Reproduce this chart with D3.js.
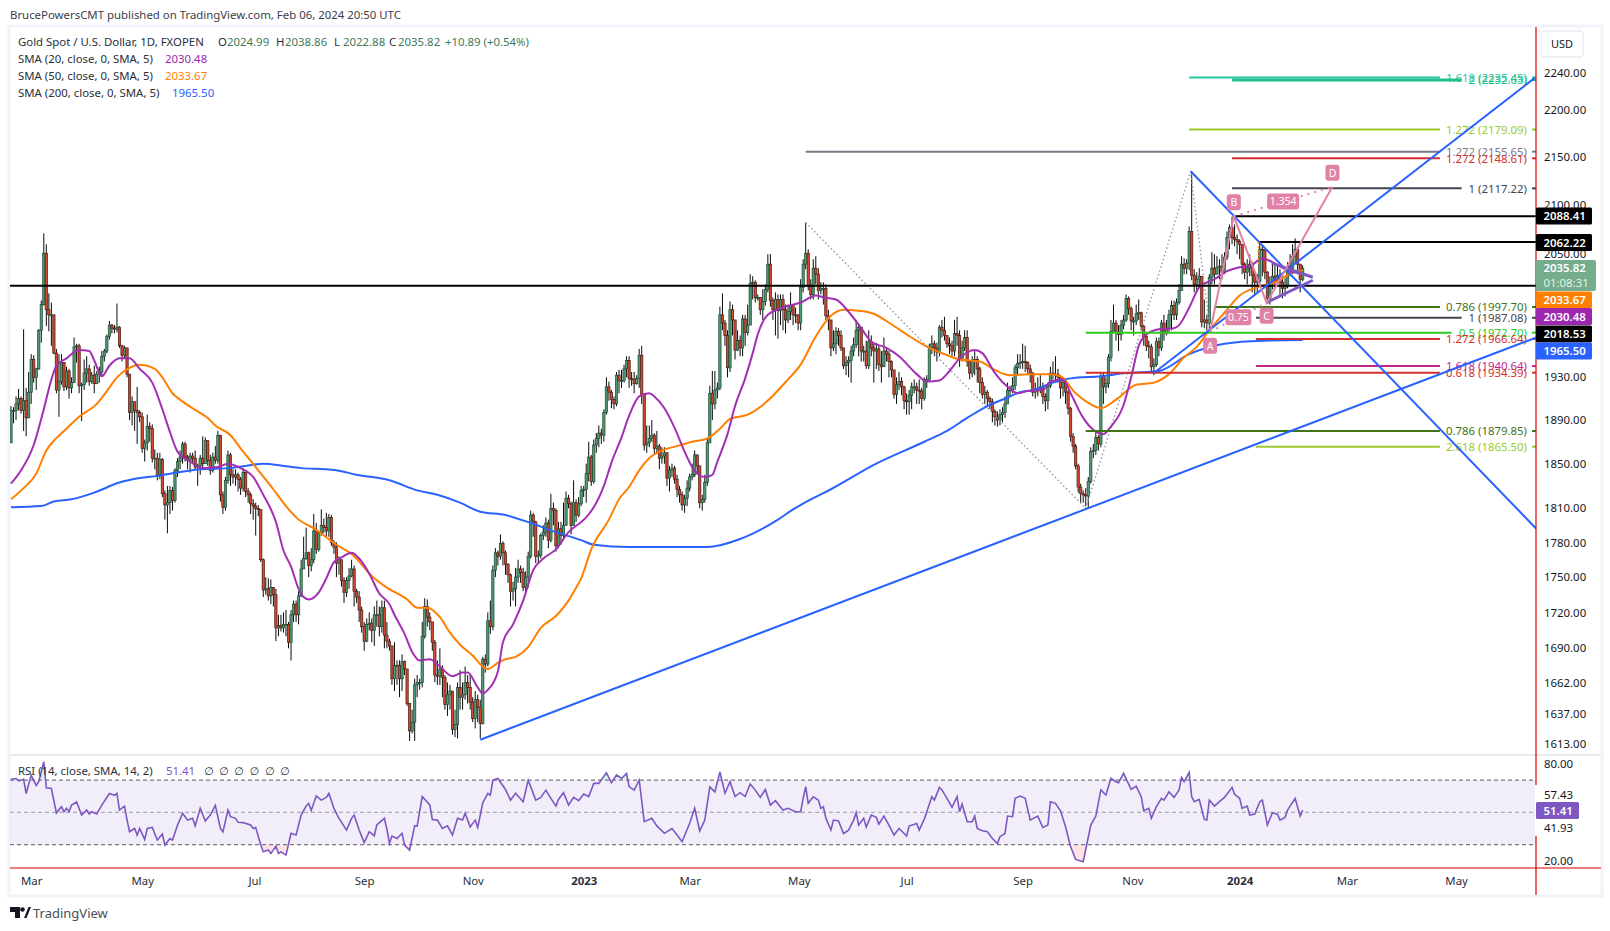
<!DOCTYPE html>
<html>
<head>
<meta charset="utf-8">
<script src="https://cdn.jsdelivr.net/npm/d3@7/dist/d3.min.js"></script>
<style>
html, body { margin: 0; padding: 0; background: #fff; }
text { font-family: "Noto Sans", "DejaVu Sans", sans-serif; }
.tick text { font-family: "Noto Sans", sans-serif; }
</style>
</head>
<body>
<div id="canvas"></div>
<script>
// candles, one row per 10 daily bars, open is the previous close
const closes = [
1899,1899,1905,1910,1899,1908,1892,1916,1947,1930,
1938,1975,2000,2051,1995,1990,1990,1953,1918,1926,
1944,1921,1936,1920,1925,1959,1960,1922,1923,1934,
1938,1926,1932,1924,1933,1935,1950,1955,1969,1980,
1977,1976,1978,1960,1951,1958,1933,1897,1907,1899,
1897,1893,1864,1869,1884,1882,1855,1855,1839,1854,
1823,1813,1815,1826,1817,1844,1852,1856,1868,1856,
1853,1857,1855,1847,1848,1855,1850,1871,1853,1844,
1856,1853,1876,1822,1811,1835,1858,1840,1838,1840,
1836,1828,1842,1825,1822,1814,1812,1810,1809,1765,
1739,1740,1734,1741,1735,1707,1709,1707,1710,1710,
1695,1718,1727,1718,1734,1757,1766,1771,1760,1765,
1790,1774,1788,1795,1793,1790,1802,1780,1776,1762,
1765,1747,1737,1747,1751,1757,1738,1733,1722,1708,
1696,1710,1711,1705,1718,1718,1708,1724,1701,1696,
1692,1665,1676,1676,1665,1679,1673,1645,1623,1630,
1660,1662,1662,1700,1725,1716,1712,1695,1668,1667,
1673,1666,1644,1652,1655,1624,1628,1658,1650,1652,
1662,1658,1646,1633,1648,1642,1629,1681,1677,1713,
1708,1756,1771,1768,1779,1771,1761,1752,1738,1740,
1750,1757,1754,1741,1750,1768,1804,1798,1768,1769,
1786,1789,1797,1782,1810,1808,1777,1792,1786,1795,
1819,1814,1795,1815,1804,1814,1826,1827,1841,1856,
1834,1867,1873,1878,1876,1897,1921,1916,1909,1905,
1932,1927,1927,1938,1946,1929,1928,1924,1929,1951,
1914,1867,1869,1873,1876,1864,1866,1855,1857,1860,
1837,1844,1846,1836,1827,1822,1813,1819,1828,1838,
1840,1858,1848,1815,1818,1833,1869,1915,1905,1918,
1920,1990,1982,1970,1939,1995,1985,1956,1965,1958,
1986,1973,1980,2021,2022,2007,2007,1995,2003,2015,
2040,2004,1995,2005,1994,2005,1995,1985,1993,1999,
1990,1990,1982,2017,2040,2051,2018,2010,2036,2030,
2014,2016,2016,1989,1985,1958,1962,1974,1970,1958,
1941,1944,1946,1955,1961,1975,1978,1955,1955,1941,
1964,1958,1955,1957,1942,1940,1955,1952,1945,1937,
1914,1923,1926,1921,1908,1907,1913,1921,1921,1918,
1917,1910,1926,1928,1958,1962,1958,1954,1978,1975,
1970,1962,1960,1955,1972,1970,1947,1958,1968,1945,
1934,1945,1947,1938,1925,1914,1916,1910,1907,1898,
1893,1890,1895,1897,1905,1918,1918,1922,1939,1943,
1944,1945,1944,1938,1934,1916,1918,1919,1921,1912,
1908,1922,1934,1933,1933,1930,1920,1925,1916,1901,
1875,1866,1848,1829,1823,1822,1821,1834,1861,1862,
1874,1868,1931,1921,1924,1949,1974,1982,1973,1971,
1980,1985,2006,1996,1984,1984,1991,1992,1979,1969,
1960,1959,1940,1942,1964,1958,1982,1972,1977,1990,
1999,1990,2002,2014,2040,2036,2041,2073,2029,2020,
2025,2028,1983,1985,1982,2027,2036,2030,2037,2038,
2032,2047,2067,2077,2067,2065,2063,2060,2040,2032,
2036,2040,2029,2022,2023,2055,2054,2032,2006,2021,
2028,2022,2029,2022,2016,2018,2038,2036,2048,2055,
2040,2024.99,2035.82
];
const highs = [
1903,1902,1912,1919,1912,1976,1920,1935,1952,1951,
1939,1976,2004,2071,2060,2011,2002,1986,1957,1952,
1952,1944,1940,1938,1930,1968,1962,1962,1925,1947,
1950,1942,1935,1941,1936,1940,1955,1957,1971,1984,
1981,1980,2001,1979,1961,1960,1958,1933,1912,1902,
1921,1899,1897,1872,1895,1888,1886,1863,1860,1860,
1855,1826,1830,1830,1829,1846,1855,1862,1870,1870,
1858,1860,1860,1862,1850,1858,1875,1874,1871,1858,
1860,1866,1880,1876,1825,1838,1862,1860,1845,1845,
1842,1838,1846,1843,1828,1824,1818,1815,1813,1809,
1766,1750,1749,1748,1740,1740,1718,1718,1720,1722,
1712,1722,1730,1730,1738,1765,1785,1793,1772,1775,
1805,1797,1790,1809,1801,1806,1805,1804,1782,1780,
1768,1765,1750,1750,1758,1765,1760,1740,1738,1725,
1712,1715,1720,1715,1725,1730,1725,1730,1730,1712,
1698,1692,1695,1680,1680,1685,1680,1672,1645,1640,
1665,1668,1665,1712,1732,1731,1720,1712,1697,1680,
1690,1676,1668,1662,1660,1655,1640,1662,1672,1662,
1675,1668,1668,1650,1655,1652,1648,1683,1685,1720,
1730,1760,1775,1773,1787,1781,1773,1762,1753,1746,
1758,1765,1760,1758,1755,1772,1808,1806,1799,1773,
1788,1795,1802,1800,1823,1815,1810,1798,1798,1815,
1825,1822,1816,1835,1818,1820,1830,1830,1850,1870,
1858,1872,1878,1885,1882,1900,1930,1926,1918,1912,
1935,1937,1937,1942,1950,1950,1935,1935,1932,1957,
1960,1914,1885,1885,1890,1878,1880,1868,1865,1865,
1860,1848,1850,1848,1840,1830,1825,1822,1835,1841,
1850,1862,1858,1848,1822,1840,1873,1922,1936,1936,
1925,1998,2011,1985,1975,2003,2000,1985,1975,1970,
1990,1990,2000,2030,2028,2024,2010,2007,2015,2020,
2050,2050,2007,2012,2010,2010,2010,2000,2000,2012,
2000,1997,1990,2025,2045,2082,2055,2025,2045,2048,
2036,2022,2022,2020,1995,1985,1975,1978,1977,1975,
1958,1950,1950,1960,1968,1985,1982,1978,1960,1965,
1975,1970,1962,1963,1960,1955,1968,1958,1955,1946,
1937,1930,1935,1930,1922,1915,1918,1925,1928,1925,
1928,1920,1930,1932,1962,1970,1965,1963,1980,1985,
1988,1970,1968,1965,1985,1988,1975,1965,1975,1975,
1946,1950,1955,1950,1940,1930,1922,1918,1912,1910,
1900,1898,1900,1902,1912,1925,1922,1930,1942,1952,
1952,1962,1960,1945,1942,1935,1925,1930,1932,1925,
1915,1925,1940,1945,1950,1938,1932,1930,1928,1918,
1902,1878,1868,1850,1832,1826,1828,1838,1865,1868,
1880,1876,1935,1935,1930,1952,1985,2000,1985,1980,
1985,1990,2010,2008,1998,1988,2000,2005,1993,1980,
1972,1965,1962,1948,1968,1968,1985,1990,1985,1995,
2004,2004,2006,2020,2048,2046,2045,2078,2135,2035,
2032,2036,2028,2005,1990,2030,2052,2050,2048,2045,
2050,2052,2073,2080,2088,2080,2070,2065,2060,2042,
2045,2050,2042,2032,2030,2062,2060,2055,2033,2028,
2040,2040,2040,2035,2030,2026,2042,2050,2060,2066,
2056,2040,2038.86
];
const lows = [
1869,1887,1890,1899,1896,1880,1875,1893,1905,1925,
1918,1937,1963,1999,1979,1974,1960,1952,1915,1893,
1923,1917,1918,1910,1915,1940,1944,1915,1889,1918,
1925,1922,1924,1915,1925,1925,1931,1945,1953,1966,
1972,1972,1973,1958,1945,1948,1930,1890,1885,1880,
1868,1888,1860,1852,1862,1870,1851,1845,1835,1836,
1820,1800,1788,1805,1808,1815,1838,1845,1850,1852,
1845,1842,1850,1845,1830,1840,1845,1850,1848,1840,
1842,1850,1850,1816,1805,1808,1832,1830,1832,1830,
1825,1822,1825,1820,1815,1805,1800,1786,1803,1763,
1733,1735,1730,1727,1725,1696,1700,1704,1703,1700,
1690,1680,1712,1712,1710,1733,1757,1765,1750,1755,
1762,1770,1772,1786,1788,1785,1785,1777,1770,1750,
1752,1742,1728,1733,1740,1750,1725,1728,1712,1703,
1688,1695,1705,1695,1692,1708,1700,1703,1690,1690,
1688,1660,1655,1660,1650,1655,1668,1643,1615,1621,
1615,1650,1656,1658,1698,1708,1705,1688,1662,1660,
1660,1650,1640,1635,1640,1620,1618,1617,1640,1640,
1648,1645,1640,1630,1625,1630,1617,1628,1670,1675,
1702,1705,1750,1760,1765,1760,1752,1745,1725,1730,
1725,1745,1745,1738,1735,1741,1766,1785,1762,1762,
1766,1782,1785,1775,1780,1795,1772,1775,1778,1783,
1795,1810,1787,1800,1798,1802,1812,1820,1815,1834,
1830,1832,1860,1865,1868,1870,1895,1908,1901,1900,
1903,1915,1920,1925,1930,1920,1922,1915,1923,1920,
1905,1862,1860,1865,1870,1858,1860,1845,1850,1850,
1830,1825,1838,1832,1820,1815,1808,1806,1812,1825,
1835,1838,1840,1810,1808,1815,1830,1872,1890,1900,
1910,1918,1975,1960,1930,1935,1970,1947,1955,1950,
1950,1960,1970,1985,2005,2002,2004,1990,1985,1999,
2012,1998,1985,1970,1967,1980,1975,1972,1982,1985,
1980,1982,1975,1975,2012,2035,2014,2005,2005,2020,
2005,2010,2000,1985,1975,1950,1955,1952,1960,1955,
1938,1932,1930,1925,1950,1958,1950,1945,1945,1938,
1938,1950,1925,1938,1936,1925,1940,1945,1930,1930,
1910,1905,1918,1913,1900,1895,1895,1900,1915,1905,
1905,1900,1908,1920,1926,1952,1950,1945,1950,1968,
1965,1958,1952,1950,1950,1960,1940,1945,1955,1940,
1928,1930,1932,1925,1915,1910,1905,1902,1900,1888,
1885,1884,1885,1888,1892,1905,1912,1915,1918,1932,
1938,1938,1935,1932,1925,1912,1910,1912,1915,1905,
1898,1900,1920,1928,1925,1925,1910,1912,1905,1895,
1870,1860,1845,1824,1815,1815,1812,1810,1832,1855,
1858,1862,1865,1905,1915,1920,1945,1975,1965,1955,
1965,1976,1983,1990,1975,1970,1980,1985,1975,1960,
1955,1948,1935,1932,1940,1950,1955,1965,1970,1972,
1975,1985,1985,2000,2014,2030,2030,2034,2024,2012,
2012,2018,1978,1977,1975,1976,2020,2020,2030,2025,
2025,2030,2044,2055,2060,2058,2050,2045,2030,2025,
2020,2028,2012,2010,2012,2020,2028,2025,2002,2000,
2015,2015,2020,2008,2006,2008,2016,2028,2030,2040,
2030,2012,2022.88
];
const openFirst = 1869;

const sma20Bars = [0,4,9,13,16,18,22,27,31,33,36,39,43,47,51,56,60,63,66,71,76,82,86,91,96,100,105,108,111,114,116,118,122,125,128,131,135,138,142,146,150,152,156,159,162,166,170,175,179,181,185,187,189,193,195,199,203,207,211,216,221,226,228,235,238,242,245,249,253,255,259,263,267,270,275,278,280,284,287,291,294,296,300,307,313,319,322,327,332,337,341,347,352,359,363,368,372,376,382,385,390,395,399,403,409,412,417,420,425,429,433,436,441,444,447,450,455,461,463,467,471,477,482,487,491,496,500,506,512];
const sma20Values = [1832,1844,1867,1900,1928,1941,1948,1956,1955,1946,1931,1941,1948,1948,1938,1925,1900,1879,1861,1852,1846,1847,1850,1846,1838,1822,1798,1773,1759,1740,1733,1731,1737,1749,1763,1767,1771,1766,1753,1736,1727,1718,1702,1687,1680,1681,1675,1667,1670,1670,1658,1653,1656,1671,1695,1710,1730,1756,1766,1774,1789,1798,1802,1830,1851,1874,1894,1912,1915,1912,1901,1883,1861,1847,1838,1840,1852,1877,1903,1929,1953,1971,1990,1998,2002,2009,2007,2005,1993,1977,1964,1958,1950,1933,1926,1927,1936,1948,1956,1953,1934,1921,1915,1917,1918,1926,1928,1915,1892,1881,1877,1884,1904,1930,1960,1971,1976,1977,1980,1997,2017,2025,2033,2037,2038,2046,2042,2034,2030.48];
const sma50Bars = [0,5,10,14,17,22,27,34,38,42,47,51,57,60,64,67,74,78,81,87,91,97,104,109,113,121,129,135,144,149,157,161,165,170,174,178,183,187,189,193,196,200,205,210,216,220,224,226,230,237,241,245,249,253,258,264,270,276,281,285,292,299,308,313,319,325,330,336,342,347,355,364,370,376,384,390,396,403,412,416,422,427,432,438,446,453,459,465,470,475,482,487,494,502,508,512];
const sma50Values = [1818,1828,1841,1862,1871,1882,1893,1905,1917,1930,1939,1942,1938,1930,1915,1909,1898,1892,1885,1876,1864,1847,1827,1812,1802,1791,1778,1770,1749,1741,1731,1724,1724,1716,1703,1693,1684,1675,1673,1678,1681,1683,1691,1707,1717,1727,1741,1749,1774,1800,1818,1829,1844,1855,1862,1866,1870,1873,1882,1891,1895,1906,1928,1942,1969,1989,1995,1994,1991,1984,1971,1958,1952,1947,1945,1937,1932,1933,1933,1931,1915,1906,1901,1909,1923,1925,1933,1949,1959,1975,1995,2009,2017,2023,2032,2033.67];
const sma200Bars = [0,12,17,24,33,43,51,58,66,75,86,93,100,108,115,125,129,137,150,161,169,178,186,196,206,216,226,231,245,260,276,289,304,310,317,325,342,362,371,379,387,395,400,405,413,420,432,442,455,467,481,496,512];
const sma200Values = [1811,1812,1816,1818,1824,1833,1837,1839,1842,1845,1846,1848,1850,1848,1846,1845,1844,1840,1835,1826,1822,1815,1807,1804,1797,1789,1782,1778,1776,1776,1776,1783,1800,1809,1818,1827,1849,1870,1880,1892,1903,1911,1916,1918,1925,1929,1931,1934,1936,1952,1962,1965,1965.5];

// rsi
const rsiBars = [0,2,3,5,6,8,10,11,13,14,16,18,20,21,22,23,24,26,28,30,31,32,34,36,39,41,42,43,45,46,47,49,50,51,53,54,56,58,60,61,63,64,66,68,70,72,73,75,77,79,81,83,84,86,87,89,90,92,95,96,97,99,100,102,103,105,106,107,109,111,113,115,117,118,119,121,123,125,126,128,130,133,135,136,138,140,142,144,145,148,149,150,151,153,155,156,158,160,161,163,166,167,169,171,173,175,177,179,180,182,184,185,187,189,190,191,193,196,198,200,203,205,208,210,212,214,216,217,219,221,223,225,227,229,231,233,236,238,240,242,244,245,247,249,251,254,256,259,262,264,266,269,271,273,275,277,279,281,283,285,287,289,291,293,295,297,299,301,303,306,308,311,313,314,315,316,318,320,321,322,323,325,326,328,330,332,334,335,336,338,339,341,343,344,346,348,350,352,355,356,359,360,362,363,365,366,368,369,371,373,375,376,377,379,381,382,383,385,387,389,391,392,394,395,397,398,400,402,404,406,407,409,411,412,414,416,418,420,422,425,428,430,432,434,436,438,439,441,444,446,448,449,451,452,454,456,457,459,461,463,464,465,467,468,469,471,473,474,475,477,479,481,484,485,487,488,490,491,493,495,496,498,500,502,503,505,506,509,511,512];
const rsiValues = [70.5,71,69.5,70.5,61.7,73,66.7,69,81.4,65.2,64.8,49.7,53.5,50.4,52.5,50.4,54.5,56.4,48.3,51.4,49,50.4,49,54.5,61.7,60.6,61.7,51.4,53.8,45.2,38,40,35.9,40,33.2,40,40.6,32.8,36.5,29.7,33.8,32.8,42,49.4,45.2,46.3,41.6,52.5,44.7,48.3,54.3,40,37.9,51.4,47.3,46.3,43.8,43.6,42.2,40,40.6,29.7,25.5,26.6,24.5,29,24.5,25.5,23.5,37,36,48.3,53.9,55.5,51.2,60.2,57.6,59.3,61.8,52.5,46.3,39,46.3,48.3,39,31.2,38,35.5,42.2,46.3,39.5,30.8,35.3,33.8,37,29.7,26.6,41.6,41.6,59.8,54.6,45.6,45.2,40,41.6,36,46.3,45.2,49.4,41,45.2,40.6,55.9,61.8,60.7,70,71,64.2,57.6,61.8,56.6,70,57.6,59.3,63.8,58.7,53.9,58,62.2,54.5,59.3,57.2,61.4,59.8,68,68,74.6,68.4,73.2,71,74.2,66,63.8,70,44.2,46.3,41.6,37,40,36,31.8,43.2,52.5,38.4,45.2,65.8,62.7,75,61.8,69,59.8,62.2,59.8,67.6,63.8,59.3,64.2,54.5,57.2,51.4,52.5,50.4,50.4,58.7,65.9,55.6,59.7,57.6,52.5,53.5,46.3,39,45.2,44.6,36.9,39,45.2,49.8,42.1,46.3,40.8,48.3,46.9,42.7,47.7,42.1,35.9,40,35.3,41.5,43.1,39,45.8,50.4,59.7,57.6,65.5,63.9,58.7,53.1,59.7,50.4,55.2,44.2,44.2,47.7,40,38.6,38,33.8,30.7,34.9,36.9,47.7,47.3,58.7,60.1,58.7,45.2,46.9,47.7,40.6,42.1,56.6,55.6,51,41.1,28.7,20.8,19.4,42.1,47.7,63.9,60.8,71.1,69,68.4,74.2,64.3,66.3,59.7,51,52.5,46.3,53.5,58.7,57.6,62.8,59.3,63.9,71.7,69,74.8,59.7,56.6,58,45.6,45.2,57.6,53.9,56.6,59.3,65.5,61.2,58.7,52.5,53.9,48.3,48.9,56.6,57.6,42.1,49.8,48.9,45.2,46.9,51.4,58.7,47.7,51.41];

// axis labels
const priceTicks = [2240,2200,2150,2100,2050,1930,1890,1850,1810,1780,1750,1720,1690,1662,1637,1613];
const monthBars = [8,52,96.5,140,183,227,269,312.3,355,401,444.5,487,529.5,572.8];
const monthLabels = ["Mar","May","Jul","Sep","Nov","2023","Mar","May","Jul","Sep","Nov","2024","Mar","May"];
const rsiTicks = [80,57.43,41.93,20];

// fibonacci levels
const fibLabels = ["1.618 (2235.45)","2 (2232.63)","1.272 (2179.09)","1.272 (2155.65)","1.272 (2148.61)","1 (2117.22)","0.786 (1997.70)","1 (1987.08)","0.5 (1972.70)","1.272 (1966.64)","1.618 (1940.64)","0.618 (1934.39)","0.786 (1879.85)","2.618 (1865.50)"];
const fibPrices = [2235.45,2232.63,2179.09,2155.65,2148.61,2117.22,1997.70,1987.08,1972.70,1966.64,1940.64,1934.39,1879.85,1865.50];
const fibStartBars = [467,484,467,315,484,484,477,493.5,426,493.5,493.5,426,426,493.5];
const fibEndBars = [566.4,575,566.4,566.4,566.4,575,566.4,575,571,566.4,566.4,566.4,566.4,566.4];
const fibColours = ["#26c6a0","#1fbf8f","#9bc92b","#787b86","#d32f2f","#434651","#3f7416","#434651","#2ecc1f","#d32f2f","#c2258e","#d32f2f","#3f7416","#9bc92b"];

// black horizontal rays
const rayPrices = [2088.41,2062.22,2018.53];
const rayStartBars = [484.3,494.4,-0.5];

// drawn trendlines, pairs of bar and price
const trendLines = [
    [[186,1616],[604.6,1968]],
    [[467.6,2135],[604.6,1792]],
    [[453,1934],[604,2235]]
];
const wedgeLines = [
    [[497.7,2002],[516,2024]],
    [[499.7,2041],[516,2027]]
];
const greyPath = [[315,2082],[426,1810],[467.6,2135],[475.3,1973.6]];
const orangeDash = [[494.4,2062],[494.4,2038]];

// harmonic pattern points
const abcdNames = ["A","B","C","D"];
const abcdBars = [475.3,484.7,497.7,523.8];
const abcdPrices = [1973.6,2088.4,2001.7,2118.9];
const ratioLabels = ["0.75","1.354"];

// legend text
const headerText = "BrucePowersCMT published on TradingView.com, Feb 06, 2024 20:50 UTC";
const ohlcLabels = ["O","H","L","C"];
const ohlcValues = ["2024.99","2038.86","2022.88","2035.82"];

// right hand price tags, centres are where the chart pushed them to
const tagTexts = ["2088.41","2062.22","2033.67","2030.48","2018.53","1965.50"];
const tagCentres = [216,242.6,300,316.5,334,351];
const tagColours = ["#000000","#000000","#ff7f00","#9c27b0","#000000","#2962ff"];

const width = 1610, height = 931;
const paneLeft = 10, paneRight = 1536, frameRight = 1601, frameTop = 27, frameBottom = 895;
const paneSplit = 755, rsiBottom = 868;
const fontSize = 11.4;

const svg = d3.select("#canvas")
    .append("svg")
    .attr("width", width)
    .attr("height", height)
    .style("display", "block");

// frame
svg.append("rect")
    .attr("x", paneLeft - 1).attr("y", frameTop - 1)
    .attr("width", frameRight - paneLeft + 2).attr("height", frameBottom - frameTop + 2)
    .attr("fill", "#fff").attr("stroke", "#f0f3fa").attr("stroke-width", 3);

svg.append("text")
    .attr("x", 10).attr("y", 19)
    .attr("font-size", fontSize).attr("fill", "#3c4049")
    .text(headerText);

const defs = svg.append("defs");
defs.append("clipPath").attr("id", "mainClip").append("rect")
    .attr("x", paneLeft).attr("y", frameTop).attr("width", paneRight - paneLeft).attr("height", paneSplit - frameTop);
defs.append("clipPath").attr("id", "rsiClip").append("rect")
    .attr("x", paneLeft).attr("y", paneSplit).attr("width", paneRight - paneLeft).attr("height", rsiBottom - paneSplit);

// define scales
const x = d3.scaleLinear().domain([0, 512]).range([11, 1302.7]);
const y = d3.scaleLog().domain([1613, 2240]).range([743.5, 73.3]);
const rsiY = d3.scaleLinear().domain([20, 80]).range([860.7, 764]);

const plot = svg.append("g").attr("clip-path", "url(#mainClip)");

// plot candles
const candles = closes.map((c, i) => ({
    i: i,
    open: i === 0 ? openFirst : closes[i - 1],
    close: c,
    high: highs[i],
    low: lows[i]
}));

const candle = plot.selectAll(".candle")
    .data(candles)
    .join("g")
    .attr("class", "candle");

candle.append("line")
    .attr("x1", d => x(d.i))
    .attr("x2", d => x(d.i))
    .attr("y1", d => y(Math.max(d.high, d.open, d.close)))
    .attr("y2", d => y(Math.min(d.low, d.open, d.close)))
    .attr("stroke", "#0b0b0b")
    .attr("stroke-width", 1);

candle.append("rect")
    .attr("x", d => x(d.i) - 1.15)
    .attr("width", 2.3)
    .attr("y", d => y(Math.max(d.open, d.close)))
    .attr("height", d => Math.max(1, Math.abs(y(d.open) - y(d.close))))
    .attr("fill", d => d.close >= d.open ? "#4f9a72" : "#d2482f")
    .attr("stroke", d => d.close >= d.open ? "#1d4a33" : "#4a1a10")
    .attr("stroke-width", 0.7);

// plot grey dotted swing lines
const priceLine = d3.line().x(d => x(d[0])).y(d => y(d[1]));
plot.append("path")
    .attr("d", priceLine(greyPath))
    .attr("fill", "none")
    .attr("stroke", "#9598a1")
    .attr("stroke-width", 1.4)
    .attr("stroke-dasharray", "1.5,2.5");

// plot moving averages
const smaLine = d3.line().curve(d3.curveMonotoneX);
[[sma200Bars, sma200Values, "#2962ff"], [sma50Bars, sma50Values, "#ff7f00"], [sma20Bars, sma20Values, "#a22fb3"]].forEach(s => {
    plot.append("path")
        .attr("d", smaLine(s[0].map((b, i) => [x(b), y(s[1][i])])))
        .attr("fill", "none")
        .attr("stroke", s[2])
        .attr("stroke-width", 2);
});

// plot fib levels
fibPrices.forEach((p, i) => {
    plot.append("line")
        .attr("x1", x(fibStartBars[i])).attr("x2", x(fibEndBars[i]))
        .attr("y1", y(p)).attr("y2", y(p))
        .attr("stroke", fibColours[i])
        .attr("stroke-width", i === 1 ? 3 : 2);
    plot.append("line")
        .attr("x1", 1532).attr("x2", paneRight)
        .attr("y1", y(p)).attr("y2", y(p))
        .attr("stroke", fibColours[i])
        .attr("stroke-width", 2);
    plot.append("text")
        .attr("x", 1527).attr("y", y(p) + 4.3)
        .attr("text-anchor", "end")
        .attr("font-size", fontSize)
        .attr("fill", fibColours[i])
        .text(fibLabels[i]);
});

// plot black rays
rayPrices.forEach((p, i) => {
    plot.append("line")
        .attr("x1", x(rayStartBars[i])).attr("x2", paneRight)
        .attr("y1", y(p)).attr("y2", y(p))
        .attr("stroke", "#000")
        .attr("stroke-width", 2);
});

// plot blue trendlines
trendLines.forEach(t => {
    plot.append("path")
        .attr("d", priceLine(t))
        .attr("fill", "none")
        .attr("stroke", "#2962ff")
        .attr("stroke-width", 2);
});

// plot wedge
wedgeLines.forEach(t => {
    plot.append("path")
        .attr("d", priceLine(t))
        .attr("fill", "none")
        .attr("stroke", "#7e57c2")
        .attr("stroke-width", 3);
});

plot.append("path")
    .attr("d", priceLine(orangeDash))
    .attr("fill", "none")
    .attr("stroke", "#ff9800")
    .attr("stroke-width", 1.2)
    .attr("stroke-dasharray", "2,2");

// plot abcd pattern
const abcdPoints = abcdBars.map((b, i) => [b, abcdPrices[i]]);
plot.append("path")
    .attr("d", priceLine(abcdPoints))
    .attr("fill", "none")
    .attr("stroke", "#e082a8")
    .attr("stroke-width", 2);
[[abcdPoints[0], abcdPoints[2]], [abcdPoints[1], abcdPoints[3]]].forEach(seg => {
    plot.append("path")
        .attr("d", priceLine(seg))
        .attr("fill", "none")
        .attr("stroke", "#e082a8")
        .attr("stroke-width", 2)
        .attr("stroke-dasharray", "2,5");
});

function pill(cx, cy, label, w) {
    plot.append("rect")
        .attr("x", cx - w / 2).attr("y", cy - 8).attr("width", w).attr("height", 16).attr("rx", 3)
        .attr("fill", "#e082a8");
    plot.append("text")
        .attr("x", cx).attr("y", cy + 3.8)
        .attr("text-anchor", "middle")
        .attr("font-size", 10.5)
        .attr("fill", "#fff")
        .text(label);
}
// letters sit above or below their point
const letterOffsets = [14, -14, 13, -14];
abcdNames.forEach((n, i) => pill(x(abcdBars[i]), y(abcdPrices[i]) + letterOffsets[i], n, 14));
pill((x(abcdBars[0]) + x(abcdBars[2])) / 2, (y(abcdPrices[0]) + y(abcdPrices[2])) / 2, ratioLabels[0], 26);
pill((x(abcdBars[1]) + x(abcdBars[3])) / 2, (y(abcdPrices[1]) + y(abcdPrices[3])) / 2, ratioLabels[1], 32);

// plot rsi pane
svg.append("line")
    .attr("x1", paneLeft).attr("x2", frameRight)
    .attr("y1", paneSplit).attr("y2", paneSplit)
    .attr("stroke", "#e0e3eb").attr("stroke-width", 1.5);

const rsiPlot = svg.append("g").attr("clip-path", "url(#rsiClip)");
rsiPlot.append("rect")
    .attr("x", paneLeft).attr("width", paneRight - paneLeft)
    .attr("y", rsiY(70)).attr("height", rsiY(30) - rsiY(70))
    .attr("fill", "#7e57c2").attr("fill-opacity", 0.1);

// tinted area where rsi leaves the band
const rsiPoints = rsiBars.map((b, i) => [x(b), rsiY(rsiValues[i])]);
[[30, rsiY(30), rsiBottom - rsiY(30), "#f23645"], [70, paneSplit, rsiY(70) - paneSplit, "#089981"]].forEach((b, n) => {
    defs.append("clipPath").attr("id", "band" + n).append("rect")
        .attr("x", paneLeft).attr("y", b[1]).attr("width", paneRight - paneLeft).attr("height", b[2]);
    rsiPlot.append("path")
        .attr("clip-path", "url(#band" + n + ")")
        .attr("d", d3.area().x(d => d[0]).y0(rsiY(b[0])).y1(d => d[1])(rsiPoints))
        .attr("fill", b[3]).attr("fill-opacity", 0.14);
});

[[70, "#787b86"], [50, "#a9acb4"], [30, "#787b86"]].forEach(l => {
    rsiPlot.append("line")
        .attr("x1", paneLeft).attr("x2", paneRight)
        .attr("y1", rsiY(l[0])).attr("y2", rsiY(l[0]))
        .attr("stroke", l[1])
        .attr("stroke-width", 1.2)
        .attr("stroke-dasharray", "4,3");
});

rsiPlot.append("path")
    .attr("d", d3.line()(rsiPoints))
    .attr("fill", "none")
    .attr("stroke", "#7e57c2")
    .attr("stroke-width", 1.6);

// red frame lines
svg.append("line")
    .attr("x1", paneLeft).attr("x2", frameRight)
    .attr("y1", rsiBottom).attr("y2", rsiBottom)
    .attr("stroke", "#dd0000").attr("stroke-width", 1.2);
svg.append("line")
    .attr("x1", paneRight).attr("x2", paneRight)
    .attr("y1", frameTop).attr("y2", frameBottom)
    .attr("stroke", "#dd0000").attr("stroke-width", 1.2);
// the rsi labels mask the red line
svg.append("rect")
    .attr("x", paneRight - 1).attr("y", 785).attr("width", 3).attr("height", 51).attr("fill", "#fff");

// plot axes
const priceAxis = svg.append("g")
    .attr("transform", "translate(" + (paneRight + 1) + ",0)")
    .call(d3.axisRight(y).tickValues(priceTicks).tickFormat(d => d.toFixed(2)).tickSize(0).tickPadding(7));
priceAxis.selectAll(".domain").remove();
priceAxis.selectAll("text").attr("font-size", fontSize).attr("fill", "#131722");

const timeAxis = svg.append("g")
    .attr("transform", "translate(0," + (rsiBottom + 6) + ")")
    .call(d3.axisBottom(x).tickValues(monthBars).tickFormat((d, i) => monthLabels[i]).tickSize(0).tickPadding(3));
timeAxis.selectAll(".domain").remove();
timeAxis.selectAll("text")
    .attr("font-size", fontSize)
    .attr("fill", "#2a2e39")
    .attr("font-weight", (d, i) => monthLabels[i].length === 4 ? 700 : 400);

// rsi scale, the inner labels sit a little off their values
const rsiAxis = svg.append("g")
    .attr("transform", "translate(" + (paneRight + 1) + ",0)")
    .call(d3.axisRight(rsiY).tickValues(rsiTicks).tickFormat(d => d.toFixed(2)).tickSize(0).tickPadding(7));
rsiAxis.selectAll(".domain").remove();
rsiAxis.selectAll("text")
    .attr("font-size", fontSize)
    .attr("fill", "#131722")
    .attr("dy", d => d === 57.43 ? "-0.2em" : d === 41.93 ? "0.55em" : "0.32em");

// price tags
function tag(cy, label, colour, w) {
    svg.append("rect")
        .attr("x", paneRight).attr("y", cy - 8.5).attr("width", w).attr("height", 17).attr("rx", 1.5)
        .attr("fill", colour);
    svg.append("text")
        .attr("x", paneRight + 7.5).attr("y", cy + 4.2)
        .attr("font-size", fontSize).attr("font-weight", 600).attr("fill", "#fff")
        .text(label);
}
tagTexts.forEach((t, i) => tag(tagCentres[i], t, tagColours[i], 56));
tag(810.5, "51.41", "#7e57c2", 43);

svg.append("rect")
    .attr("x", paneRight).attr("y", 260).attr("width", 60).attr("height", 31).attr("rx", 2)
    .attr("fill", "#74ac8c");
svg.append("text").attr("x", paneRight + 7.5).attr("y", 272.3)
    .attr("font-size", fontSize).attr("font-weight", 600).attr("fill", "#fff").text(ohlcValues[3]);
svg.append("text").attr("x", paneRight + 7.5).attr("y", 286.8)
    .attr("font-size", fontSize).attr("fill", "#e4f0e9").text("01:08:31");

// currency button
svg.append("rect")
    .attr("x", 1541).attr("y", 31).attr("width", 42).attr("height", 26).attr("rx", 3)
    .attr("fill", "#fff").attr("stroke", "#e0e3eb");
svg.append("text")
    .attr("x", 1562).attr("y", 48)
    .attr("text-anchor", "middle").attr("font-size", 11).attr("fill", "#131722").text("USD");

// legend
const legendDark = "#2a2e39";
function legendRow(yPos, label, value, colour, xValue) {
    svg.append("text").attr("x", 18).attr("y", yPos).attr("font-size", fontSize).attr("fill", legendDark).text(label);
    svg.append("text").attr("x", xValue).attr("y", yPos).attr("font-size", fontSize).attr("fill", colour).text(value);
}
svg.append("text").attr("x", 18).attr("y", 45.5).attr("font-size", fontSize).attr("fill", legendDark)
    .text("Gold Spot / U.S. Dollar, 1D, FXOPEN");
const ohlcX = [218, 276, 334, 389];
ohlcLabels.forEach((l, i) => {
    svg.append("text").attr("x", ohlcX[i]).attr("y", 45.5).attr("font-size", fontSize).attr("fill", legendDark).text(l);
    svg.append("text").attr("x", ohlcX[i] + 9).attr("y", 45.5).attr("font-size", fontSize).attr("fill", "#3d7a5a").text(ohlcValues[i]);
});
svg.append("text").attr("x", 445).attr("y", 45.5).attr("font-size", fontSize).attr("fill", "#3d7a5a").text("+10.89 (+0.54%)");

legendRow(63, "SMA (20, close, 0, SMA, 5)", "2030.48", "#9c27b0", 165);
legendRow(80, "SMA (50, close, 0, SMA, 5)", "2033.67", "#ff7f00", 165);
legendRow(97, "SMA (200, close, 0, SMA, 5)", "1965.50", "#2962ff", 172);

legendRow(775, "RSI (14, close, SMA, 14, 2)", "51.41", "#7e57c2", 166);
[207, 222, 237, 252.5, 268, 283].forEach(xp => {
    svg.append("text").attr("x", xp - 3).attr("y", 775).attr("font-size", 11).attr("fill", legendDark).text("\u2205");
});

// tradingview mark
const logo = svg.append("g").attr("fill", "#131722");
logo.append("path").attr("d", "M10 907h10v11h-5v-6h-5z");
logo.append("circle").attr("cx", 22.5).attr("cy", 909.5).attr("r", 2.3);
logo.append("path").attr("d", "M24 918l4.5 -11h2.5l-4.5 11z");
svg.append("text").attr("x", 33).attr("y", 918).attr("font-size", 13).attr("fill", "#4a4e58").text("TradingView");
</script>
</body>
</html>
